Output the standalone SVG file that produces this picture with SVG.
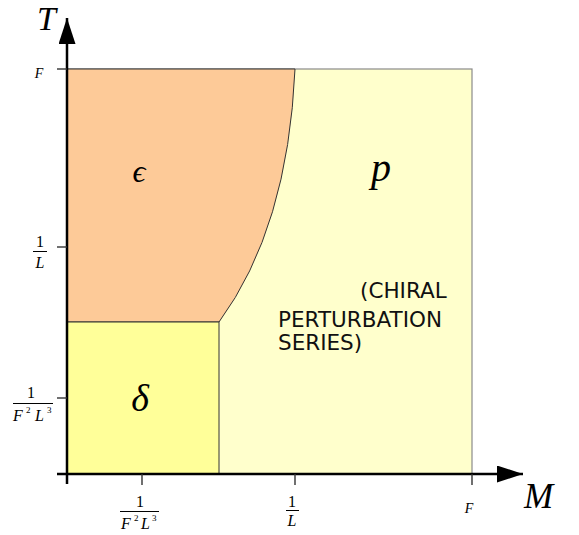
<svg xmlns="http://www.w3.org/2000/svg" width="579" height="535" viewBox="0 0 579 535">
<style>
.m{font-family:"Liberation Serif","DejaVu Serif",serif;font-style:italic;fill:#000}
.n{font-family:"Liberation Serif","DejaVu Serif",serif;fill:#000}
.s{font-family:"DejaVu Sans","Liberation Sans",sans-serif;font-size:21.5px;fill:#111}
.tick{stroke:#333;stroke-width:1.4}
.axis{stroke:#000;stroke-width:2.5;fill:none}
.bar{stroke:#000;stroke-width:1}
</style>
<defs>
<marker id="ah" markerWidth="26" markerHeight="17" refX="26" refY="8.5" orient="auto" markerUnits="userSpaceOnUse">
<path d="M0,0 L26,8.5 L0,17 Z" fill="#000"/>
</marker>
</defs>
<rect width="579" height="535" fill="#fff"/>
<g id="region-p">
<rect x="67" y="69" width="405" height="405" fill="#FFFFCC" stroke="#8a8a8a" stroke-width="1.2"/>
</g>
<g id="region-epsilon">
<path d="M67,69 L295,69 Q288,228 219,322 L67,322 Z" fill="#FDCA98" stroke="#333" stroke-width="1"/>
</g>
<g id="region-delta">
<rect x="67" y="322" width="152" height="152" fill="#FFFF99" stroke="#333" stroke-width="1"/>
</g>
<g id="connectors">
<line class="axis" x1="67" y1="484" x2="67" y2="18" marker-end="url(#ah)"/>
<line class="axis" x1="57" y1="474" x2="523" y2="474" marker-end="url(#ah)"/>
<line class="tick" x1="57" y1="69" x2="67" y2="69"/>
<line class="tick" x1="57" y1="247" x2="67" y2="247"/>
<line class="tick" x1="57" y1="398" x2="67" y2="398"/>
<line class="tick" x1="142" y1="474" x2="142" y2="485"/>
<line class="tick" x1="295" y1="474" x2="295" y2="485"/>
<line class="tick" x1="472" y1="474" x2="472" y2="485"/>
</g>
<g id="labels">
<text class="m" x="37" y="30" font-size="34">T</text>
<text class="m" x="524" y="508" font-size="35">M</text>
<text class="m" x="139" y="182" font-size="32" text-anchor="middle">ϵ</text>
<text class="m" x="381" y="181" font-size="40" text-anchor="middle">p</text>
<text class="m" x="140" y="411" font-size="38" text-anchor="middle">δ</text>
<text class="s" x="360" y="298">(CHIRAL</text>
<text class="s" x="278" y="327">PERTURBATION</text>
<text class="s" x="278" y="350">SERIES)</text>
</g>
<g id="y-ticks">
<text class="m" x="39" y="78" font-size="14" text-anchor="middle">F</text>
<text class="n" x="40" y="247" font-size="16" text-anchor="middle">1</text>
<line class="bar" x1="33" y1="251.5" x2="47" y2="251.5"/>
<text class="m" x="40" y="268" font-size="16" text-anchor="middle">L</text>
<text class="n" x="31" y="398" font-size="16" text-anchor="middle">1</text>
<line class="bar" x1="13" y1="403.5" x2="53" y2="403.5"/>
<text class="m" x="13" y="421" font-size="16">F</text>
<text class="n" x="26" y="413" font-size="9">2</text>
<text class="m" x="35" y="421" font-size="16">L</text>
<text class="n" x="47" y="413" font-size="9">3</text>
</g>
<g id="x-ticks">
<text class="n" x="140" y="507" font-size="16" text-anchor="middle">1</text>
<line class="bar" x1="120" y1="511.5" x2="159" y2="511.5"/>
<text class="m" x="121" y="529" font-size="16">F</text>
<text class="n" x="134" y="521" font-size="9">2</text>
<text class="m" x="141" y="529" font-size="16">L</text>
<text class="n" x="152" y="521" font-size="9">3</text>
<text class="n" x="292" y="507" font-size="16" text-anchor="middle">1</text>
<line class="bar" x1="286" y1="510.5" x2="299" y2="510.5"/>
<text class="m" x="292" y="526" font-size="16" text-anchor="middle">L</text>
<text class="m" x="469" y="513" font-size="14" text-anchor="middle">F</text>
</g>
</svg>
